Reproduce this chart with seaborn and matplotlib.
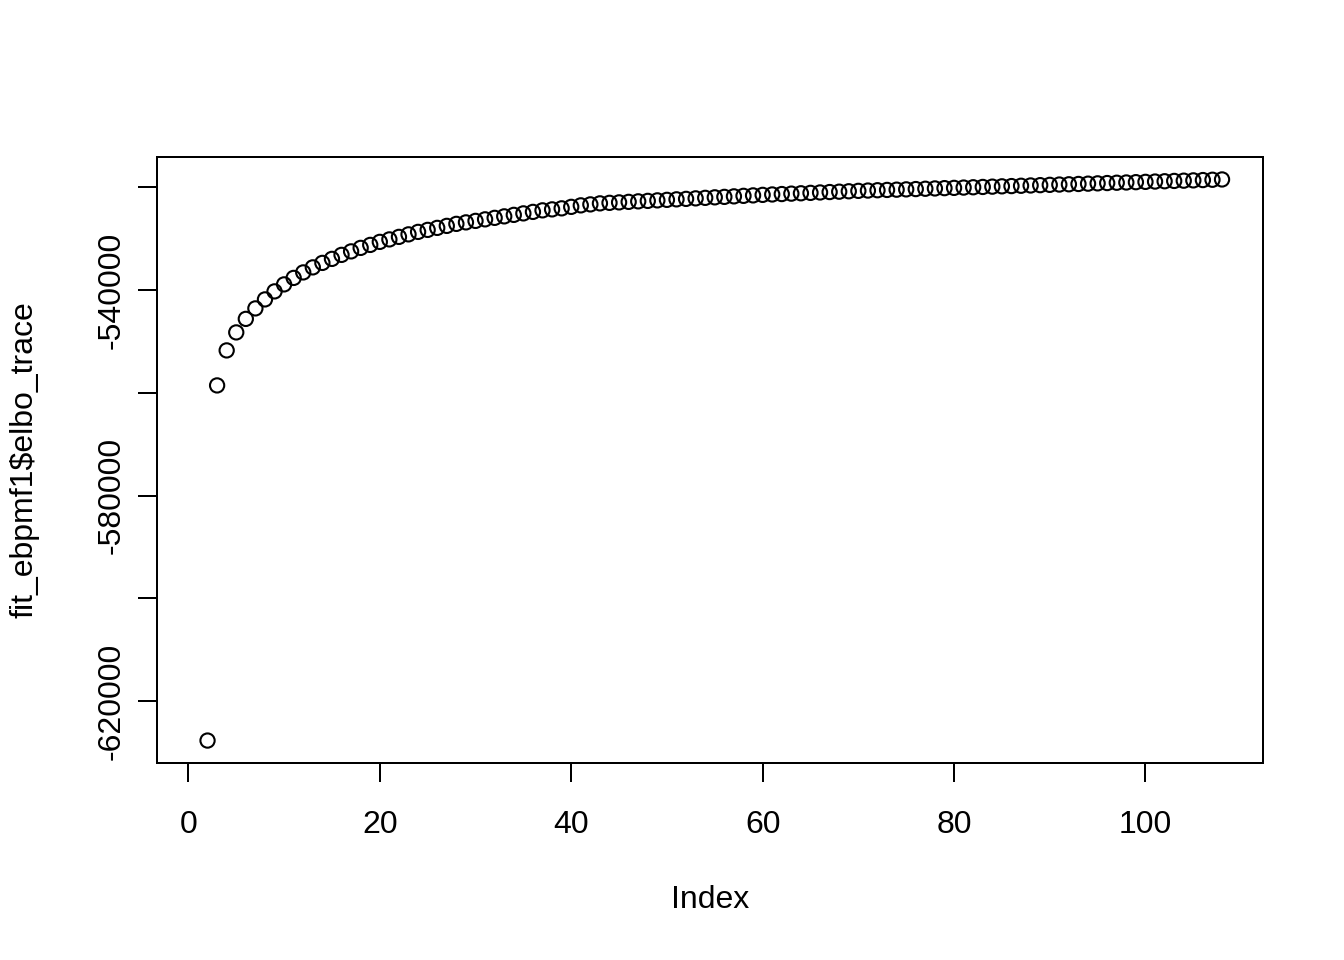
import numpy as np
import pandas as pd
import matplotlib
matplotlib.use("Agg")
import matplotlib.pyplot as plt
import seaborn as sns

# ELBO trace values (index 1 is not finite, so it is not drawn)
elbo_trace = [
    np.nan, -627650, -558580, -551770, -548270, -545640, -543600, -541850, -540290, -538930,
    -537670, -536600, -535620, -534750, -533970, -533190, -532510, -531830, -531250, -530660,
    -530180, -529690, -529200, -528720, -528330, -527940, -527550, -527160, -526870, -526580,
    -526280, -525990, -525700, -525410, -525120, -524830, -524530, -524340, -524140, -523850,
    -523560, -523370, -523170, -523070, -522980, -522880, -522780, -522690, -522590, -522490,
    -522390, -522300, -522200, -522100, -522000, -521910, -521810, -521710, -521620, -521520,
    -521440, -521360, -521280, -521210, -521130, -521050, -520970, -520900, -520820, -520740,
    -520680, -520620, -520560, -520510, -520450, -520390, -520330, -520270, -520210, -520160,
    -520100, -520040, -519980, -519920, -519860, -519810, -519750, -519690, -519630, -519570,
    -519510, -519460, -519400, -519340, -519280, -519220, -519160, -519110, -519050, -518990,
    -518930, -518870, -518810, -518760, -518700, -518640, -518580, -518520,
]
index = list(range(1, len(elbo_trace) + 1))

x_ticks = [0, 20, 40, 60, 80, 100]
y_ticks = [-620000, -600000, -580000, -560000, -540000, -520000]
y_tick_labels = ["-620000", "", "-580000", "", "-540000", ""]

df = pd.DataFrame({"Index": index, "elbo": elbo_trace})

sns.set_style("ticks")
plt.rcParams["font.family"] = ["Liberation Sans", "DejaVu Sans"]

fig = plt.figure(figsize=(13.44, 9.6), dpi=100)
ax = fig.add_axes([157 / 1344, 1 - 763 / 960, 1106 / 1344, 606 / 960])

sns.scatterplot(data=df, x="Index", y="elbo", ax=ax, marker="o", s=105,
                facecolors="none", edgecolor="black", linewidth=1.5)

# R style 4% padding around the data range
x_min, x_max = 1, len(elbo_trace)
pad_x = 0.04 * (x_max - x_min)
ax.set_xlim(x_min - pad_x, x_max + pad_x)
y_min, y_max = np.nanmin(elbo_trace), np.nanmax(elbo_trace)
pad_y = 0.04 * (y_max - y_min)
ax.set_ylim(y_min - pad_y, y_max + pad_y)

ax.set_xticks(x_ticks)
ax.set_xticklabels([str(t) for t in x_ticks])
ax.set_yticks(y_ticks)
ax.set_yticklabels(y_tick_labels, rotation=90, va="center")

ax.tick_params(axis="both", direction="out", length=13.7, width=1.44,
               labelsize=23, color="black", labelcolor="black")
ax.tick_params(axis="x", pad=20)
ax.tick_params(axis="y", pad=8)

for side in ["top", "right", "bottom", "left"]:
    ax.spines[side].set_visible(True)
    ax.spines[side].set_color("black")
    ax.spines[side].set_linewidth(1.44)

ax.set_xlabel("Index", fontsize=23, va="center", color="black")
ax.set_ylabel(r"fit_ebpmf1\$elbo_trace", fontsize=23, va="center", color="black")
ax.xaxis.set_label_coords(0.5, (763 - 900) / 606)
ax.yaxis.set_label_coords((25 - 157) / 1106, 0.5)
ax.grid(False)

fig.savefig("out.png", dpi=100, facecolor="white")
